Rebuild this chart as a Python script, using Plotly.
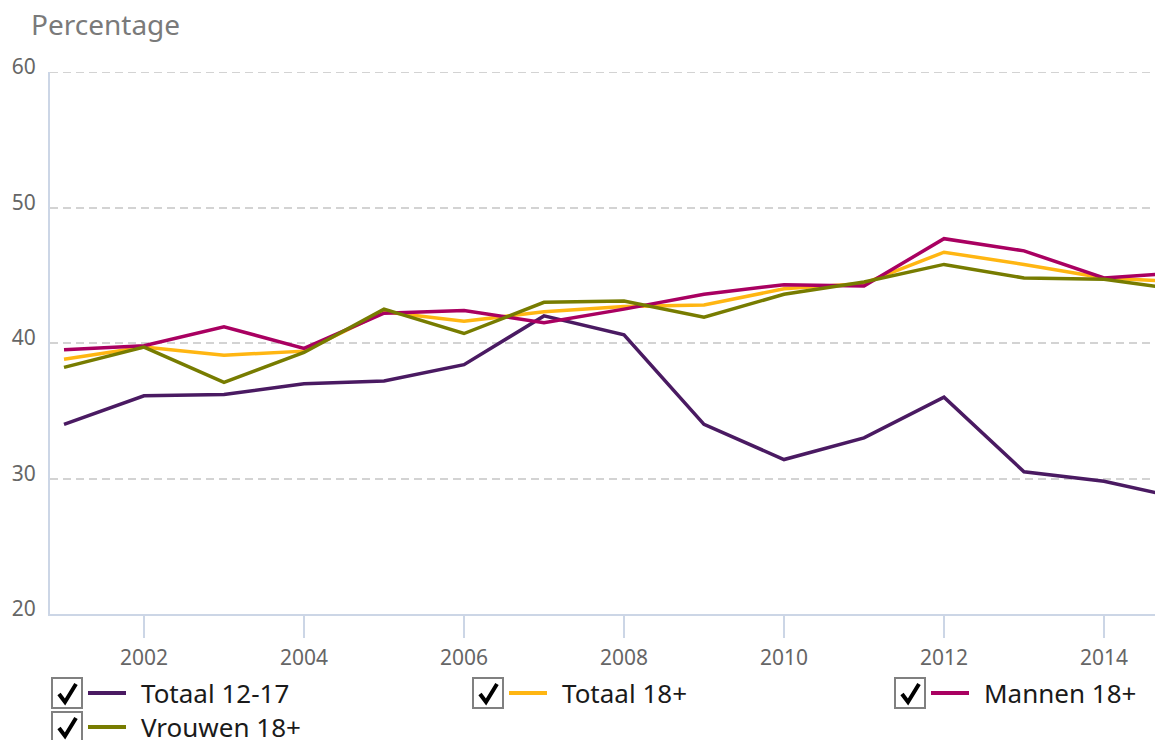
import plotly.graph_objects as go

years = [2001, 2002, 2003, 2004, 2005, 2006, 2007, 2008, 2009, 2010, 2011, 2012, 2013, 2014, 2015]
totaal_12_17 = [34.0, 36.1, 36.2, 37.0, 37.2, 38.4, 42.0, 40.6, 34.0, 31.4, 33.0, 36.0, 30.5, 29.8, 28.5]
totaal_18 = [38.8, 39.7, 39.1, 39.4, 42.3, 41.6, 42.3, 42.7, 42.8, 44.0, 44.4, 46.7, 45.8, 44.8, 44.5]
mannen_18 = [39.5, 39.8, 41.2, 39.6, 42.2, 42.4, 41.5, 42.5, 43.6, 44.3, 44.2, 47.7, 46.8, 44.8, 45.2]
vrouwen_18 = [38.2, 39.7, 37.1, 39.3, 42.5, 40.7, 43.0, 43.1, 41.9, 43.6, 44.5, 45.8, 44.8, 44.7, 43.9]

series_names = ["Totaal 12-17", "Totaal 18+", "Mannen 18+", "Vrouwen 18+"]
series_values = [totaal_12_17, totaal_18, mannen_18, vrouwen_18]
colors = ["#4a1a62", "#ffb612", "#a90061", "#777c00"]

y_ticks = [20, 30, 40, 50, 60]
x_ticks = [2002, 2004, 2006, 2008, 2010, 2012, 2014]

FONT = "Noto Sans, Open Sans, sans-serif"
W, H = 1155, 740
L, R, T, B = 50, 0, 72, 126
PW = W - L - R
PH = H - T - B

fig = go.Figure()
for name, vals, col in zip(series_names, series_values, colors):
    fig.add_trace(go.Scatter(x=years, y=vals, name=name, mode="lines",
                             line=dict(color=col, width=3.5), showlegend=False))

def px2paper(px, py):
    return (px - L) / PW, (H - B - py) / PH

shapes = []
annotations = []

# top gridline at 60 (plotly omits the grid line at the range edge)
shapes.append(dict(type="line", xref="paper", yref="y", x0=0, x1=1, y0=y_ticks[-1], y1=y_ticks[-1],
                   line=dict(color="#d3d3d3", width=2, dash="8px,5px"), layer="below"))

legend_pos = [(52, 693), (473, 693), (895, 693), (52, 727)]
for (bx, cy), name, col in zip(legend_pos, series_names, colors):
    x0, y0 = px2paper(bx, cy - 15)
    x1, y1 = px2paper(bx + 30, cy + 15)
    shapes.append(dict(type="rect", xref="paper", yref="paper", x0=x0, x1=x1, y0=y0, y1=y1,
                       line=dict(color="#808080", width=2), fillcolor="white", layer="above"))
    p1 = px2paper(bx + 7, cy + 1)
    p2 = px2paper(bx + 13, cy + 9)
    p3 = px2paper(bx + 24, cy - 9)
    shapes.append(dict(type="path", xref="paper", yref="paper",
                       path=f"M {p1[0]},{p1[1]} L {p2[0]},{p2[1]} L {p3[0]},{p3[1]}",
                       line=dict(color="black", width=4), layer="above"))
    lx0, ly = px2paper(bx + 36, cy)
    lx1, _ = px2paper(bx + 74, cy)
    shapes.append(dict(type="line", xref="paper", yref="paper", x0=lx0, x1=lx1, y0=ly, y1=ly,
                       line=dict(color=col, width=4), layer="above"))
    tx, ty = px2paper(bx + 87, cy)
    annotations.append(dict(xref="paper", yref="paper", x=tx, y=ty, text=name, showarrow=False,
                            xanchor="left", yanchor="middle",
                            font=dict(family=FONT, size=26, color="#1a1a1a")))

annotations.append(dict(xref="paper", yref="paper", x=px2paper(29, 0)[0], y=px2paper(0, 24)[1],
                        text="Percentage", showarrow=False, xanchor="left", yanchor="middle",
                        font=dict(family=FONT, size=28, color="#7a7a7a")))

fig.update_layout(
    width=W, height=H,
    margin=dict(l=L, r=R, t=T, b=B, pad=0),
    paper_bgcolor="white", plot_bgcolor="white",
    shapes=shapes, annotations=annotations,
    showlegend=False,
    font=dict(family=FONT, color="#666666"),
)
fig.update_xaxes(
    range=[2001 - 14 / 80, 2001 - 14 / 80 + PW / 80],
    tickvals=x_ticks, ticktext=[str(v) for v in x_ticks],
    showgrid=False, zeroline=False,
    showline=True, linecolor="#ccd6e6", linewidth=2,
    ticks="outside", ticklen=22, tickwidth=2, tickcolor="#ccd6e6",
    ticklabelstandoff=2,
    tickfont=dict(size=21, color="#666666"),
)
fig.update_yaxes(
    range=[20, 60], tickvals=y_ticks,
    showgrid=True, gridcolor="#d3d3d3", gridwidth=2, griddash="8px,5px",
    zeroline=False, showline=True, linecolor="#ccd6e6", linewidth=2,
    ticks="", ticklabelstandoff=8, ticklabelshift=-5,
    tickfont=dict(size=21, color="#666666"),
)

fig.write_html("out.html", config={"displayModeBar": False},
               post_script="document.body.style.margin='0';document.body.style.overflow='hidden';")
